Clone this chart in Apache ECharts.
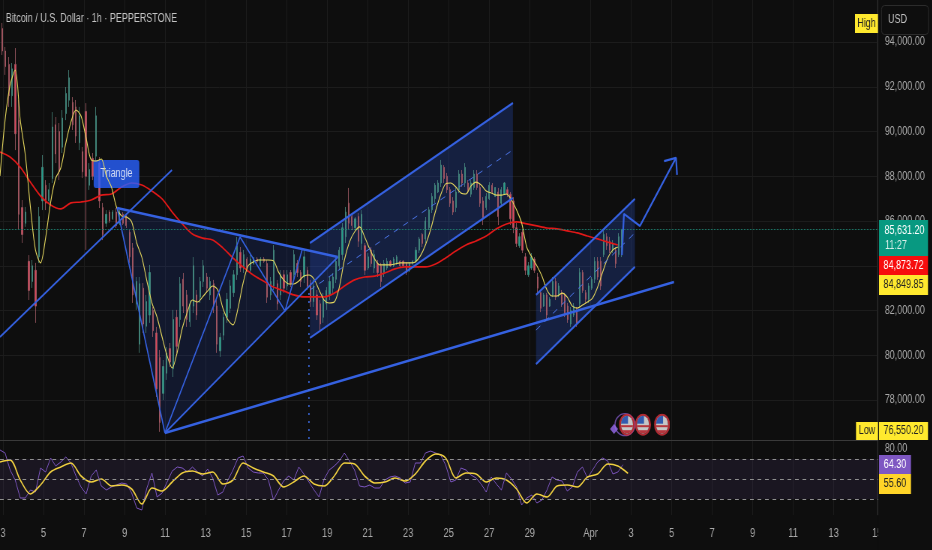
<!DOCTYPE html>
<html><head><meta charset="utf-8">
<style>html,body{margin:0;padding:0;background:#0e0e0e;overflow:hidden;width:932px;height:550px}#c{width:1243px;height:550px;transform:scaleX(.75);transform-origin:0 0;filter:blur(.35px)}</style>
<script src="https://cdn.jsdelivr.net/npm/echarts@6/dist/echarts.min.js"></script>
</head><body><div id="c"></div>
<script>
const chartTitle = 'Bitcoin / U.S. Dollar · 1h · PEPPERSTONE';
const dayTicks = [3,5,7,9,11,13,15,17,19,21,23,25,27,29,32,34,36,38,40,42,44,46.15];
const priceTicks = [78,80,82,84,86,88,90,92,94];
const rsiTicks = [80];
const rsiLevels = [70,50,30];
const lastPrice = 85.6312;
// [open, close, low, high] in thousands of USD
const candles = [
[94.6,93.6,93.42,94.85],[93.6,92.9,92.53,93.78],[93.0,91.6,91.1,93.33],[91.6,92.8,91.1,93.06],[93.0,89.9,89.17,93.73],[90.5,86.3,85.6,91.41],
[86.6,85.4,85.02,86.94],[85.9,86.4,85.74,86.63],[84.2,82.9,82.47,84.48],[83.3,84.0,83.01,84.26],[83.8,82.2,81.45,84.13],[84.4,86.2,84.13,86.63],
[86.9,88.4,86.49,88.95],[87.6,86.8,86.49,87.83],[86.9,87.4,86.8,87.7],[87.9,90.2,87.7,90.87],[90.3,89.0,88.59,90.65],[90.0,88.2,87.83,90.38],
[89.3,90.6,89.04,90.96],[90.8,91.7,90.51,91.99],[91.4,92.4,91.1,92.75],[91.3,90.3,90.07,91.54],[91.1,89.8,89.49,91.41],[89.5,90.7,89.17,91.1],
[89.1,88.2,87.92,89.31],[90.9,88.0,84.71,91.27],[87.6,88.3,87.39,88.59],[88.8,88.0,87.83,89.04],[88.9,90.7,88.73,91.1],[88.6,86.9,86.58,88.86],
[86.6,85.4,85.15,86.81],[85.9,86.3,85.74,86.49],[86.4,86.0,85.91,86.49],[86.1,86.4,86.05,86.49],[86.4,85.8,85.69,86.58],[85.9,86.4,85.82,86.49],
[86.3,85.9,85.82,86.4],[86.2,85.8,85.69,86.27],[85.5,84.4,84.13,85.6],[84.8,82.7,82.34,85.02],[82.3,83.3,82.03,83.5],[80.5,83.2,80.11,83.5],
[83.0,81.4,81.0,83.23],[81.3,82.4,81.0,82.7],[81.8,83.7,81.45,84.04],[82.0,81.1,80.82,82.16],[81.0,78.5,78.14,81.27],[79.9,77.0,76.58,80.24],
[78.3,79.5,78.0,79.79],[79.2,80.1,78.9,80.37],[80.3,79.7,79.48,80.55],[79.4,81.6,79.03,82.03],[81.7,80.4,80.11,82.03],[81.6,83.2,81.27,83.5],
[83.4,82.2,81.89,83.68],[82.7,81.6,81.27,82.92],[81.5,82.3,81.27,82.47],[82.2,84.0,81.89,84.39],[82.7,81.8,81.58,82.92],[82.6,83.3,82.34,83.5],
[83.3,84.0,83.05,84.26],[83.5,83.0,82.8,83.68],[82.7,83.3,82.47,83.5],[83.2,82.2,81.89,83.37],[82.2,80.5,80.11,82.47],[80.2,80.8,79.93,81.0],
[80.9,81.7,80.68,81.89],[81.7,82.5,81.45,82.79],[82.1,83.1,81.89,83.37],[82.8,83.6,82.61,83.81],[83.6,84.9,83.37,85.29],[84.6,83.9,83.72,84.84],
[83.9,84.5,83.68,84.71],[84.3,83.8,83.72,84.39],[83.8,84.3,83.68,84.48],[84.1,84.3,84.04,84.39],[84.3,84.2,84.13,84.39],[84.0,84.3,83.95,84.39],
[84.3,84.2,84.13,84.39],[84.1,82.6,82.34,84.26],[82.7,83.3,82.47,83.5],[83.1,84.7,82.92,84.93],[83.2,82.3,82.03,83.37],[82.7,83.6,82.47,83.81],
[83.6,83.0,82.79,83.81],[83.1,83.6,82.92,83.81],[83.7,83.2,83.05,83.81],[83.6,84.5,83.37,84.71],[84.1,83.7,83.5,84.26],[83.7,83.3,83.05,83.81],
[83.5,84.4,83.23,84.71],[83.8,83.1,82.92,83.95],[83.2,82.4,82.16,83.37],[82.4,83.1,82.16,83.37],[82.7,81.8,81.58,82.92],[82.3,81.4,81.13,82.47],
[81.7,82.5,81.45,82.79],[82.3,82.9,82.03,83.05],[82.7,83.3,82.47,83.5],[83.0,83.5,82.79,83.68],[83.4,84.2,83.23,84.39],[84.0,84.7,83.81,84.84],
[84.5,85.7,84.26,85.91],[85.3,86.4,85.02,86.63],[86.8,85.9,85.6,87.48],[86.2,85.8,85.6,86.36],[85.7,86.1,85.6,86.18],[86.2,85.1,84.84,86.36],
[85.0,86.3,84.71,86.49],[84.9,83.8,83.59,85.02],[83.9,84.4,83.81,84.57],[84.7,84.1,83.95,84.84],[83.9,84.5,83.68,84.71],[84.1,83.7,83.5,84.26],
[84.0,83.3,83.05,84.13],[83.7,84.1,83.5,84.26],[83.9,84.2,83.81,84.35],[84.2,84.0,83.95,84.26],[84.0,84.3,83.95,84.39],[84.1,84.4,84.04,84.48],
[84.2,84.0,83.95,84.26],[84.2,84.0,83.9,84.26],[84.1,83.7,83.59,84.17],[83.8,84.1,83.72,84.17],[84.1,84.2,84.04,84.26],[84.2,84.7,84.13,84.84],
[84.7,85.2,84.57,85.29],[85.4,85.0,84.84,85.46],[85.2,86.0,85.02,86.18],[85.7,86.5,85.6,86.63],[86.5,87.1,86.36,87.25],[87.0,87.6,86.81,87.7],
[87.3,87.7,87.25,87.83],[87.7,88.5,87.52,88.73],[88.4,87.9,87.7,88.5],[88.0,87.4,87.25,88.15],[87.4,86.8,86.63,87.52],[86.9,86.4,86.27,87.07],
[86.6,87.3,86.4,87.48],[87.4,88.1,87.25,88.28],[88.1,87.7,87.52,88.28],[87.7,88.4,87.52,88.59],[87.7,87.4,87.25,87.83],[87.2,87.7,87.07,87.83],
[87.5,88.1,87.39,88.28],[88.1,87.5,87.39,88.28],[87.5,86.8,86.63,87.7],[86.9,86.1,85.82,87.07],[86.6,87.1,86.49,87.25],[87.0,87.6,86.94,87.74],
[87.6,87.3,87.25,87.7],[87.1,87.5,87.07,87.52],[87.3,86.2,85.82,87.48],[86.8,87.4,86.63,87.52],[87.2,87.7,87.16,87.74],[87.4,87.2,87.07,87.52],
[87.2,86.1,85.82,87.3],[86.9,85.7,85.46,87.07],[85.7,85.0,84.84,85.91],[84.9,85.3,84.8,85.46],[85.5,84.7,84.57,85.6],[84.4,83.8,83.59,84.57],
[83.6,84.0,83.5,84.17],[83.9,84.4,83.81,84.57],[84.3,83.8,83.68,84.39],[83.5,83.0,82.79,83.68],[82.8,82.1,81.93,82.92],[82.2,82.7,82.16,82.79],
[82.7,81.8,81.58,82.79],[82.2,82.5,82.16,82.6],[82.7,83.3,82.6,83.5],[83.3,82.6,82.47,83.46],[82.7,83.1,82.6,83.23],[82.8,82.3,82.16,82.92],
[82.7,81.9,81.71,82.79],[82.2,81.6,81.45,82.34],[81.4,82.0,81.27,82.16],[81.8,82.2,81.71,82.34],[82.0,81.4,81.27,82.16],[82.3,83.7,82.16,83.9],
[83.7,82.9,82.79,83.81],[82.8,82.5,82.34,82.92],[82.5,83.1,82.34,83.23],[83.0,83.4,82.92,83.5],[83.4,84.2,83.23,84.39],[84.2,83.5,83.37,84.39],
[84.2,83.1,82.92,84.39],[84.5,85.4,84.39,85.6],[85.3,84.9,84.71,85.46],[85.1,84.7,84.57,85.29],[84.7,85.0,84.57,85.15],[84.7,84.1,83.9,84.84],
[84.5,85.3,84.39,85.46],[84.6,85.63,84.39,85.63]
];
// bar number -> calendar day (March day count; 32 = Apr 1)
const candleDayAnchors = [[0,2.95],[90,17.86],[130,24.17],[193,33.55]];
const maStartDay = 2.85;
const fastMaStep = 0.25;
const fastMa = [88.01,90.51,92.08,92.75,90.51,88.95,86.63,84.71,84.13,85.24,86.85,87.92,88.37,89.49,90.42,90.96,90.69,89.71,88.73,88.68,88.77,88.01,87.52,86.63,86.23,86.18,85.96,85.02,84.39,83.32,82.34,81.71,80.82,79.97,79.43,80.15,81.22,81.94,82.47,82.38,82.61,82.88,83.10,82.92,82.11,81.58,81.36,82.11,83.23,84.0,84.17,84.26,84.26,84.26,84.22,83.72,83.37,83.19,83.19,83.32,83.54,83.59,83.41,82.92,82.47,82.34,82.38,83.05,84.26,85.06,85.51,85.74,85.29,84.75,84.3,84.04,84.04,84.04,84.08,84.13,84.13,84.13,84.17,84.44,84.93,85.6,86.45,87.16,87.66,87.7,87.52,87.25,87.21,87.57,87.74,87.61,87.34,87.25,87.16,87.16,87.21,86.94,86.49,85.91,84.84,84.39,84.0,83.54,82.92,82.65,82.65,82.78,82.6,82.2,82.11,82.25,82.38,82.56,83.05,83.72,84.35,84.71,84.84];
const slowMaStep = 0.5;
const slowMa = [89.08,88.86,88.41,87.74,87.12,86.72,86.54,86.81,86.85,86.94,87.16,87.21,87.52,87.7,87.61,87.34,86.99,86.4,85.87,85.42,85.24,85.15,84.8,84.35,83.95,83.59,83.32,83.05,82.88,82.7,82.61,82.61,82.61,82.78,83.1,83.37,83.5,83.54,83.68,83.86,83.95,83.95,83.95,84.08,84.35,84.66,84.93,85.11,85.33,85.65,85.87,85.96,85.87,85.78,85.69,85.65,85.56,85.47,85.33,85.2,85.06,84.93];
const rsiStep = 0.25;
const rsi = [79,76,59,49,31,31,39,37,61,57,71,63,67,72,66,53,42,35,53,59,43,39,42,44,46,45,36,21,19,41,56,32,36,47,58,62,61,57,62,57,53,60,51,34,37,49,59,71,73,61,57,56,56,49,29,39,48,53,49,62,55,47,39,32,50,59,63,68,76,68,59,43,42,44,41,41,49,52,53,51,46,47,66,66,76,78,76,74,64,47,49,61,59,54,51,45,37,52,45,39,56,50,42,24,31,34,26,29,39,52,49,48,38,42,57,62,51,59,67,71,68,55,57,64.3];
const rsiMaStep = 0.5;
const rsiMa = [67,69,49,35,44,57,62,66,53,47,50,43,44,40,25,41,38,47,56,58,55,57,45,49,66,61,57,53,42,47,53,45,43,53,66,65,53,46,47,51,48,55,68,75,71,51,56,55,47,51,49,40,26,35,32,43,44,42,52,55,65,63,55.6];
// drawings as [day, price]
const vertexLow = [10.99,76.53];
const risingSupport = [[2.85,80.82],[11.34,88.28]];
const triangleTop = [[8.63,86.58],[19.53,84.39]];
const trianglePath = [[8.63,86.58],vertexLow,[14.70,85.29],[16.92,81.98],[17.76,84.71]];
const triangleBase = [vertexLow,[19.53,84.39]];
const longSupport = [vertexLow,[36.12,83.28]];
const dottedDrop = [[18.10,82.79],[18.10,76.22]];
const channelATop = [[18.15,85.02],[28.17,91.275]];
const channelABottom = [[18.15,80.78],[28.17,87.03]];
const channelAMid = [[18.15,82.92],[28.17,89.18]];
const channelBTop = [[29.31,82.70],[34.19,86.99]];
const channelBBottom = [[29.31,79.61],[34.19,83.95]];
const channelBMid = [[29.31,81.13],[34.19,85.47]];
const forecastPath = [[33.55,84.48],[33.65,86.32],[34.44,85.78],[36.22,88.82]];
const forecastHead = [[35.63,88.68],[36.22,88.82],[36.27,88.06]];
const zones = [
  [[8.63,86.58],[19.53,84.39],vertexLow],
  [channelATop[0],channelATop[1],channelABottom[1],channelABottom[0]],
  [channelBTop[0],channelBTop[1],channelBBottom[1],channelBBottom[0]]
];
const zoneFills = ['rgba(40,80,200,.17)','rgba(40,80,200,.27)','rgba(40,80,200,.27)'];
const triangleNote = [8.6,88.1,'Triangle'];
const eventDays = [33.8,34.59,35.53];
const eventPrice = 76.9;
const sparkle = [33.16,76.71];
const priceBadgeValues = ['85,631.20','11:27','84,873.72','84,849.85','76,550.20'];
const rsiBadgeValues = ['64.30','55.60'];

const S=1/.75, W=1243;
const BLUE='#3561e0', FONT='"Liberation Sans",sans-serif', AX='#a9a9a9';
const GRID='#1c1c1c', X0=2.85, X1=46.19, Y0=76.216, Y1=95.877;
function dayOf(i){
  for(let k=1;k<candleDayAnchors.length;k++){
    const a=candleDayAnchors[k-1],b=candleDayAnchors[k];
    if(i<=b[0]) return a[1]+(b[1]-a[1])*(i-a[0])/(b[0]-a[0]);
  }
  return candleDayAnchors[candleDayAnchors.length-1][1];
}
const stepped=(arr,st)=>arr.map((v,i)=>[maStartDay+i*st,v]);
function draw(pts,w,extra){
  return Object.assign({type:'line',data:pts,showSymbol:false,symbol:'none',silent:true,z:6,animation:false,
    lineStyle:Object.assign({color:BLUE,width:w},extra||{})});
}
const flagSvg='<svg xmlns="http://www.w3.org/2000/svg" width="32" height="46" viewBox="0 0 32 46">'+
 '<defs><clipPath id="k"><ellipse cx="16" cy="23" rx="12" ry="18"/></clipPath></defs>'+
 '<ellipse cx="16" cy="23" rx="14" ry="20" fill="#111" stroke="#d8323c" stroke-width="4"/>'+
 '<g clip-path="url(#k)"><rect x="0" y="0" width="32" height="46" fill="#f4f4f4"/>'+
 '<rect x="0" y="24" width="32" height="4" fill="#e0404a"/><rect x="0" y="34" width="32" height="7" fill="#e0404a"/>'+
 '<rect x="2" y="3" width="16" height="18" fill="#3b6fd8"/></g></svg>';
const flagSym='image://data:image/svg+xml;charset=utf-8,'+encodeURIComponent(flagSvg);

const badge=(x,y,w,h,fill,text,color,size)=>({type:'rect',z:50,shape:{x:x*S,y,width:w*S,height:h},style:{fill},
  textContent:{type:'text',z:51,style:{text,fill:color,font:(size||12)+'px '+FONT}},textConfig:{position:'inside'}});
const chart=echarts.init(document.getElementById('c'),null,{renderer:'canvas',width:W,height:550});
chart.setOption({
  backgroundColor:'#0e0e0e',animation:false,
  title:{text:chartTitle,left:2*S,top:8,textStyle:{color:'#c4c4c4',fontSize:12,fontWeight:'normal',fontFamily:FONT}},
  grid:[{left:0,top:0,width:878*S,height:440,outerBoundsMode:'none'},{left:0,top:441,width:878*S,height:74,outerBoundsMode:'none'}],
  xAxis:[
    {type:'value',gridIndex:0,min:X0,max:X1,axisLine:{show:true,onZero:false,lineStyle:{color:'#3a3a3a'}},
     axisTick:{show:false,customValues:dayTicks},axisLabel:{show:false},splitLine:{show:true,lineStyle:{color:GRID}}},
    {type:'value',gridIndex:1,min:X0,max:X1,axisLine:{show:false},
     axisTick:{show:false,customValues:dayTicks},
     axisLabel:{show:true,customValues:dayTicks,margin:12,color:AX,fontSize:12.5,fontFamily:FONT,hideOverlap:false,
       formatter:v=>v<=31?String(v):(v===32?'Apr':String(Math.floor(v)-31))},
     splitLine:{show:true,lineStyle:{color:GRID}}}
  ],
  yAxis:[
    {type:'value',gridIndex:0,position:'right',min:Y0,max:Y1,axisLine:{show:true,onZero:false,lineStyle:{color:'#2a2a2a'}},
     axisTick:{show:false,customValues:priceTicks},
     axisLabel:{customValues:priceTicks,margin:9,color:AX,fontSize:12,fontFamily:FONT,
       formatter:v=>(v*1000).toLocaleString('en-US')+'.00'},
     splitLine:{show:true,lineStyle:{color:GRID}}},
    {type:'value',gridIndex:1,position:'right',min:14,max:88,axisLine:{show:true,onZero:false,lineStyle:{color:'#2a2a2a'}},
     axisTick:{show:false,customValues:rsiTicks},
     axisLabel:{customValues:rsiTicks,margin:9,color:AX,fontSize:12,fontFamily:FONT,formatter:v=>v.toFixed(2)},
     splitLine:{show:false}}
  ],
  graphic:[
    {type:'rect',z:40,shape:{x:878*S,y:515,width:54*S+2,height:35},style:{fill:'#0e0e0e'}},
    badge(879,220,49,36,'#089981','','#fff'),
    {type:'text',z:51,style:{x:904.5*S,y:231,text:priceBadgeValues[0],fill:'#fff',font:'12px '+FONT,textAlign:'center',textVerticalAlign:'middle'}},
    {type:'text',z:51,style:{x:885*S,y:246,text:priceBadgeValues[1],fill:'#d8efe9',font:'12px '+FONT,textAlign:'left',textVerticalAlign:'middle'}},
    badge(879,256,49,19,'#f70d0d',priceBadgeValues[2],'#fff'),
    badge(879,275,49,20,'#ffe92e',priceBadgeValues[3],'#222'),
    badge(855,14,23,19,'#ffe92e','High','#222'),
    badge(856,422,22,18,'#ffe92e','Low','#222'),
    badge(879,422,49,18,'#ffe92e',priceBadgeValues[4],'#222'),
    badge(879,455,32,19,'#7e57c2',rsiBadgeValues[0],'#fff'),
    badge(879,474,32,20,'#ffd428',rsiBadgeValues[1],'#222'),
    {type:'rect',z:50,shape:{x:881.5*S,y:5.5,width:47*S,height:29,r:4},style:{fill:'#0e0e0e',stroke:'#2c2c2c',lineWidth:1}},
    {type:'text',z:51,style:{x:888*S,y:20,text:'USD',fill:'#c4c4c4',font:'12px '+FONT,textVerticalAlign:'middle'}}
  ],
  series:[
    {type:'custom',xAxisIndex:0,yAxisIndex:0,z:1,silent:true,
     data:zones.map((z,i)=>[z[0][0],z[0][1],i]),encode:{x:0,y:1},
     renderItem:(p,api)=>({type:'polygon',shape:{points:zones[p.dataIndex].map(q=>api.coord(q))},style:{fill:zoneFills[p.dataIndex]}})},
    {type:'candlestick',xAxisIndex:0,yAxisIndex:0,z:2,barWidth:1.3*S,silent:true,
     data:candles.map((c,i)=>[dayOf(i)].concat(c)),
     itemStyle:{color:'#1f9d8a',color0:'#d9445a',borderColor:'#4c8f84',borderColor0:'#a85f6a',borderWidth:.8},
     markLine:{silent:true,symbol:'none',label:{show:false},lineStyle:{type:'dotted',color:'#1f7d6d',width:1},data:[{yAxis:lastPrice}]}},
    {type:'line',xAxisIndex:0,yAxisIndex:0,z:3,data:stepped(slowMa,slowMaStep),showSymbol:false,smooth:.3,silent:true,lineStyle:{color:'#e01818',width:1.7}},
    {type:'scatter',xAxisIndex:0,yAxisIndex:0,z:3,symbolSize:0,silent:true,data:[triangleNote.slice(0,2)],
     label:{show:true,position:'inside',formatter:triangleNote[2],color:'#fff',fontSize:12,fontFamily:FONT,backgroundColor:'#2962ff',borderRadius:3,padding:[8,9,8,9]}},
    {type:'line',xAxisIndex:0,yAxisIndex:0,z:5,data:stepped(fastMa,fastMaStep),showSymbol:false,smooth:.3,silent:true,lineStyle:{color:'#e6d85e',width:1.1}},
    draw(risingSupport,2),draw(triangleTop,2.5),draw(trianglePath,1.6),draw(triangleBase,1.8),draw(longSupport,2.5),
    draw(dottedDrop,1.6,{type:[2,6],color:'#3f6fe8'}),
    draw(channelATop,2.2),draw(channelABottom,2.2),draw(channelAMid,1,{type:[7,7],color:'#4b74e6'}),
    draw(channelBTop,2.2),draw(channelBBottom,2.2),draw(channelBMid,1,{type:[7,7],color:'#4b74e6'}),
    draw(forecastPath,2.2),draw(forecastHead,2.2),
    {type:'scatter',xAxisIndex:0,yAxisIndex:0,z:7,silent:true,symbol:flagSym,symbolSize:[16*S,23],data:eventDays.map(d=>[d,eventPrice])},
    {type:'scatter',xAxisIndex:0,yAxisIndex:0,z:6,silent:true,symbol:'circle',symbolSize:[20*S,22],data:[[eventDays[0]-.1,eventPrice]],itemStyle:{color:'rgba(0,0,0,0)',borderColor:'#7e57c2',borderWidth:1.5}},
    {type:'scatter',xAxisIndex:0,yAxisIndex:0,z:8,silent:true,symbol:'diamond',symbolSize:[8*S,10],data:[sparkle],itemStyle:{color:'#9a6cf0'}},
    {type:'line',xAxisIndex:1,yAxisIndex:1,z:3,data:stepped(rsi,rsiStep),showSymbol:false,silent:true,lineStyle:{color:'#7e57c2',width:1},
     markArea:{silent:true,itemStyle:{color:'rgba(126,87,194,.11)'},data:[[{yAxis:rsiLevels[2]},{yAxis:rsiLevels[0]}]]},
     markLine:{silent:true,symbol:'none',label:{show:false},lineStyle:{type:[5,5],color:'#8f8f8f',width:1},data:rsiLevels.map(v=>({yAxis:v}))}},
    {type:'line',xAxisIndex:1,yAxisIndex:1,z:4,data:stepped(rsiMa,rsiMaStep),showSymbol:false,smooth:.3,silent:true,lineStyle:{color:'#f0d040',width:1.6}}
  ]
});
</script></body></html>
